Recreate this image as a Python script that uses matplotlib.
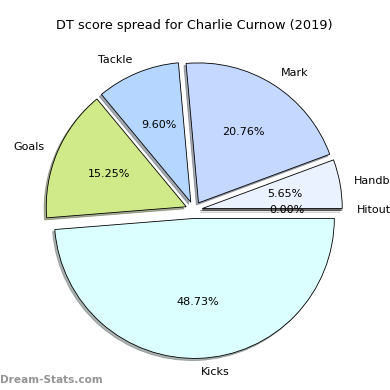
import matplotlib

matplotlib.use("Agg")
import matplotlib.pyplot as plt

labels = ["Handball", "Mark", "Tackle", "Goals", "Kicks", "Hitout"]
shares = [5.65, 20.76, 9.60, 15.25, 48.73, 0.00]
colors = ["#eaf1ff", "#c5d8ff", "#b5d6ff", "#d0ea8a", "#dbffff", "#ffffff"]
explode = [0.06] * len(labels)

fig = plt.figure(figsize=(3.9, 3.9), dpi=100)
ax = fig.add_axes([0.0487, 0.0128, 0.8974, 0.8974])
ax.pie(shares, labels=labels, colors=colors, explode=explode,
       shadow=dict(ox=-0.011, oy=-0.011, shade=0.6),
       startangle=0, autopct="%.2f%%",
       wedgeprops=dict(edgecolor="black", linewidth=0.6),
       textprops=dict(fontsize=8))
ax.set_aspect("equal")
ax.set_title("DT score spread for Charlie Curnow (2019)", fontsize=9.3, pad=4.3)
fig.text(0.0, 0.012, "Dream-Stats.com", fontsize=7.6, color="#959595",
         fontweight="bold", ha="left", va="bottom")

fig.savefig("out.png", dpi=100, facecolor="white")
